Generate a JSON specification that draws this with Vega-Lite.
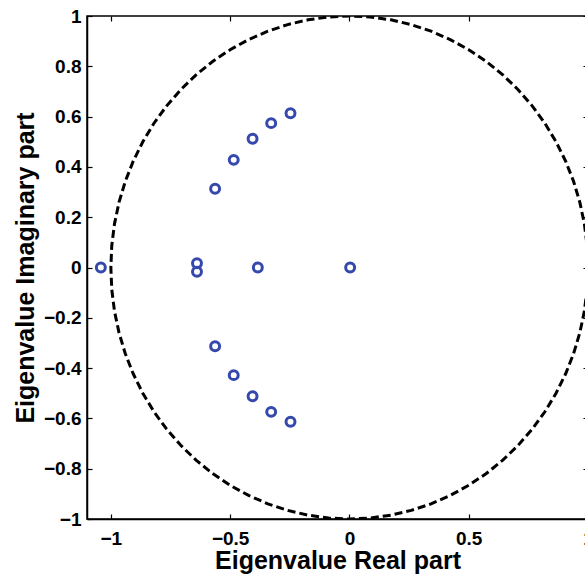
{
  "$schema": "https://vega.github.io/schema/vega-lite/v6.json",
  "autosize": {"type": "none"},
  "padding": {"left": 87, "top": 16, "right": 0, "bottom": 56},
  "width": 501,
  "height": 503,
  "background": "white",
  "config": {
    "view": {"stroke": "black", "strokeWidth": 1.5},
    "font": "Liberation Sans",
    "axis": {
      "grid": false,
      "domainColor": "black",
      "domainWidth": 1.5,
      "tickColor": "black",
      "tickWidth": 1.2,
      "tickSize": -5,
      "labelFont": "Liberation Sans",
      "labelFontWeight": "bold",
      "labelFontSize": 19,
      "labelColor": "black",
      "labelOverlap": false,
      "labelFlush": false,
      "format": "~g",
      "titleFont": "Liberation Sans",
      "titleFontWeight": "bold",
      "titleFontSize": 25,
      "titleColor": "black"
    }
  },
  "datasets": {
    "circle": [
      {"i":0,"re":1,"im":0},{"i":1,"re":0.9962,"im":0.0872},{"i":2,"re":0.9848,"im":0.1736},{"i":3,"re":0.9659,"im":0.2588},{"i":4,"re":0.9397,"im":0.342},{"i":5,"re":0.9063,"im":0.4226},{"i":6,"re":0.866,"im":0.5},{"i":7,"re":0.8192,"im":0.5736},{"i":8,"re":0.766,"im":0.6428},{"i":9,"re":0.7071,"im":0.7071},{"i":10,"re":0.6428,"im":0.766},{"i":11,"re":0.5736,"im":0.8192},{"i":12,"re":0.5,"im":0.866},{"i":13,"re":0.4226,"im":0.9063},{"i":14,"re":0.342,"im":0.9397},{"i":15,"re":0.2588,"im":0.9659},{"i":16,"re":0.1736,"im":0.9848},{"i":17,"re":0.0872,"im":0.9962},{"i":18,"re":0,"im":1},
      {"i":19,"re":-0.0872,"im":0.9962},{"i":20,"re":-0.1736,"im":0.9848},{"i":21,"re":-0.2588,"im":0.9659},{"i":22,"re":-0.342,"im":0.9397},{"i":23,"re":-0.4226,"im":0.9063},{"i":24,"re":-0.5,"im":0.866},{"i":25,"re":-0.5736,"im":0.8192},{"i":26,"re":-0.6428,"im":0.766},{"i":27,"re":-0.7071,"im":0.7071},{"i":28,"re":-0.766,"im":0.6428},{"i":29,"re":-0.8192,"im":0.5736},{"i":30,"re":-0.866,"im":0.5},{"i":31,"re":-0.9063,"im":0.4226},{"i":32,"re":-0.9397,"im":0.342},{"i":33,"re":-0.9659,"im":0.2588},{"i":34,"re":-0.9848,"im":0.1736},{"i":35,"re":-0.9962,"im":0.0872},{"i":36,"re":-1,"im":0},
      {"i":37,"re":-0.9962,"im":-0.0872},{"i":38,"re":-0.9848,"im":-0.1736},{"i":39,"re":-0.9659,"im":-0.2588},{"i":40,"re":-0.9397,"im":-0.342},{"i":41,"re":-0.9063,"im":-0.4226},{"i":42,"re":-0.866,"im":-0.5},{"i":43,"re":-0.8192,"im":-0.5736},{"i":44,"re":-0.766,"im":-0.6428},{"i":45,"re":-0.7071,"im":-0.7071},{"i":46,"re":-0.6428,"im":-0.766},{"i":47,"re":-0.5736,"im":-0.8192},{"i":48,"re":-0.5,"im":-0.866},{"i":49,"re":-0.4226,"im":-0.9063},{"i":50,"re":-0.342,"im":-0.9397},{"i":51,"re":-0.2588,"im":-0.9659},{"i":52,"re":-0.1736,"im":-0.9848},{"i":53,"re":-0.0872,"im":-0.9962},{"i":54,"re":0,"im":-1},
      {"i":55,"re":0.0872,"im":-0.9962},{"i":56,"re":0.1736,"im":-0.9848},{"i":57,"re":0.2588,"im":-0.9659},{"i":58,"re":0.342,"im":-0.9397},{"i":59,"re":0.4226,"im":-0.9063},{"i":60,"re":0.5,"im":-0.866},{"i":61,"re":0.5736,"im":-0.8192},{"i":62,"re":0.6428,"im":-0.766},{"i":63,"re":0.7071,"im":-0.7071},{"i":64,"re":0.766,"im":-0.6428},{"i":65,"re":0.8192,"im":-0.5736},{"i":66,"re":0.866,"im":-0.5},{"i":67,"re":0.9063,"im":-0.4226},{"i":68,"re":0.9397,"im":-0.342},{"i":69,"re":0.9659,"im":-0.2588},{"i":70,"re":0.9848,"im":-0.1736},{"i":71,"re":0.9962,"im":-0.0872},{"i":72,"re":1,"im":0}
    ],
    "eig": [
      {"re":-1.042,"im":0},
      {"re":-0.639,"im":0.017},
      {"re":-0.639,"im":-0.017},
      {"re":-0.384,"im":0},
      {"re":0.003,"im":0},
      {"re":-0.563,"im":0.313},
      {"re":-0.485,"im":0.428},
      {"re":-0.406,"im":0.512},
      {"re":-0.328,"im":0.574},
      {"re":-0.247,"im":0.613},
      {"re":-0.563,"im":-0.313},
      {"re":-0.485,"im":-0.428},
      {"re":-0.406,"im":-0.512},
      {"re":-0.328,"im":-0.574},
      {"re":-0.247,"im":-0.613}
    ]
  },
  "layer": [
    {
      "data": {"name": "circle"},
      "mark": {"type": "line", "color": "black", "strokeWidth": 3, "strokeDash": [8, 4], "clip": true},
      "encoding": {
        "x": {"field": "re", "type": "quantitative", "scale": {"domain": [-1.1, 1], "nice": false, "zero": false},
              "axis": {"values": [-1, -0.5, 0, 0.5, 1], "title": "Eigenvalue Real part", "titlePadding": 0, "labelPadding": 15}},
        "y": {"field": "im", "type": "quantitative", "scale": {"domain": [-1, 1], "nice": false},
              "axis": {"values": [-1, -0.8, -0.6, -0.4, -0.2, 0, 0.2, 0.4, 0.6, 0.8, 1], "title": "Eigenvalue Imaginary part", "titlePadding": 5, "labelPadding": 11}},
        "order": {"field": "i", "type": "quantitative"}
      }
    },
    {
      "data": {"name": "eig"},
      "mark": {"type": "point", "shape": "circle", "filled": false, "color": "#3548AC", "strokeWidth": 3, "size": 80, "opacity": 1},
      "encoding": {
        "x": {"field": "re", "type": "quantitative",
              "axis": {"orient": "top", "values": [-1, -0.5, 0, 0.5, 1], "labels": false, "title": null, "domain": false}},
        "y": {"field": "im", "type": "quantitative",
              "axis": {"orient": "right", "values": [-1, -0.8, -0.6, -0.4, -0.2, 0, 0.2, 0.4, 0.6, 0.8, 1], "labels": false, "title": null, "domain": false}}
      }
    }
  ],
  "resolve": {"axis": {"x": "independent", "y": "independent"}}
}
